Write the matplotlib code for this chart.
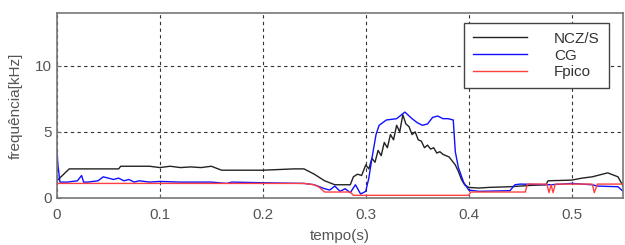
import numpy as np
import matplotlib
matplotlib.use("Agg")
import matplotlib.pyplot as plt

# NCZ/S (black)
t_ncz = [0, 0.012, 0.06, 0.062, 0.09, 0.1, 0.11, 0.12, 0.13, 0.14, 0.15, 0.16, 0.17, 0.2,
         0.23, 0.24, 0.25, 0.26, 0.27, 0.285, 0.288, 0.292, 0.296, 0.3, 0.303, 0.306, 0.309,
         0.312, 0.315, 0.318, 0.321, 0.324, 0.327, 0.33, 0.333, 0.336, 0.339, 0.342, 0.345,
         0.348, 0.351, 0.354, 0.357, 0.36, 0.363, 0.366, 0.369, 0.372, 0.375, 0.378, 0.381,
         0.384, 0.387, 0.39, 0.393, 0.396, 0.4, 0.41, 0.42, 0.44, 0.46, 0.475, 0.477, 0.5,
         0.51, 0.52, 0.535, 0.545, 0.55]
ncz = [1.3, 2.2, 2.2, 2.4, 2.4, 2.3, 2.4, 2.3, 2.35, 2.3, 2.4, 2.1, 2.1, 2.1,
       2.2, 2.2, 1.8, 1.3, 1.0, 1.0, 1.6, 1.8, 1.7, 2.5, 2.2, 3.0, 2.7,
       3.6, 3.2, 4.2, 3.8, 4.8, 4.4, 5.5, 5.0, 6.3, 5.6, 5.4, 4.8,
       5.0, 4.4, 4.3, 3.8, 4.0, 3.7, 3.8, 3.4, 3.5, 3.3, 3.2, 3.1,
       2.8, 2.5, 2.0, 1.4, 1.0, 0.8, 0.75, 0.8, 0.85, 0.95, 1.0, 1.3, 1.35,
       1.5, 1.6, 1.9, 1.6, 0.9]

# CG (blue)
t_cg = [0, 0.001, 0.003, 0.01, 0.02, 0.024, 0.026, 0.03, 0.04, 0.045, 0.05, 0.055, 0.06,
        0.065, 0.07, 0.075, 0.08, 0.09, 0.1, 0.12, 0.15, 0.165, 0.17, 0.2, 0.24, 0.25, 0.26,
        0.265, 0.27, 0.275, 0.28, 0.285, 0.29, 0.295, 0.3, 0.303, 0.306, 0.31, 0.313, 0.32,
        0.33, 0.338, 0.345, 0.35, 0.355, 0.36, 0.365, 0.37, 0.375, 0.38, 0.385, 0.387, 0.39,
        0.395, 0.4, 0.41, 0.44, 0.445, 0.45, 0.48, 0.5, 0.52, 0.525, 0.545, 0.55]
cg = [3.7, 2.5, 1.2, 1.2, 1.3, 1.7, 1.2, 1.2, 1.3, 1.6, 1.5, 1.4, 1.5,
      1.3, 1.4, 1.2, 1.3, 1.2, 1.25, 1.2, 1.2, 1.1, 1.2, 1.15, 1.1, 1.0, 0.7,
      0.6, 0.9, 0.5, 0.7, 0.4, 1.0, 0.3, 0.5, 1.5, 3.0, 4.8, 5.5, 5.9,
      6.0, 6.5, 6.0, 5.7, 5.5, 5.6, 6.1, 6.2, 6.0, 6.0, 5.9, 3.5, 2.3,
      1.2, 0.6, 0.5, 0.55, 1.0, 1.05, 1.0, 1.1, 1.0, 0.9, 0.85, 0.5]

# Fpico (red)
t_fp = [0, 0.24, 0.25, 0.255, 0.26, 0.285, 0.288, 0.4, 0.402, 0.455, 0.457, 0.476,
        0.478, 0.480, 0.482, 0.484, 0.52, 0.522, 0.525, 0.55]
fp = [1.1, 1.1, 1.0, 0.8, 0.45, 0.45, 0.2, 0.2, 0.45, 0.45, 1.05, 1.05,
      0.4, 1.0, 0.4, 1.05, 1.05, 0.4, 1.05, 1.05]

xticks = [0, 0.1, 0.2, 0.3, 0.4, 0.5]
xticklabels = ['0', '0.1', '0.2', '0.3', '0.4', '0.5']
yticks = [0, 5, 10]

plt.rcParams['font.family'] = ['Liberation Sans', 'DejaVu Sans']
plt.rcParams['font.size'] = 11

fig = plt.figure(figsize=(6.25, 2.45), dpi=100)
ax = fig.add_axes([0.091, 0.192, 0.906, 0.755])

ax.plot(t_ncz, ncz, color='#222222', lw=1.0, label='NCZ/S')
ax.plot(t_cg, cg, color='#1010ff', lw=1.0, label='CG')
ax.plot(t_fp, fp, color='#ff4040', lw=1.0, label='Fpico')

ax.set_xlim(0, 0.55)
ax.set_ylim(0, 14)
ax.set_xticks(xticks)
ax.set_xticklabels(xticklabels)
ax.set_yticks(yticks)
ax.grid(True, linestyle=(0, (3, 3)), color='#333333', lw=0.8)
ax.tick_params(direction='in', length=3, colors='#666666', labelcolor='#555555')
ax.tick_params(axis='x', pad=7)
for s in ax.spines.values():
    s.set_color('#777777')
    s.set_linewidth(1.2)

ax.set_xlabel('tempo(s)', color='#555555', labelpad=5)
ax.set_ylabel('frequência[kHz]', color='#555555', labelpad=9)

leg = ax.legend(loc='upper right', bbox_to_anchor=(0.975, 0.948), borderaxespad=0,
                handlelength=3.5, handletextpad=1.8, labelspacing=0.18, borderpad=0.6,
                fancybox=False, framealpha=1, edgecolor='#444444', fontsize=11)
leg.get_frame().set_linewidth(1.0)
for txt in leg.get_texts():
    txt.set_color('#333333')

fig.savefig('out.png', dpi=100)
